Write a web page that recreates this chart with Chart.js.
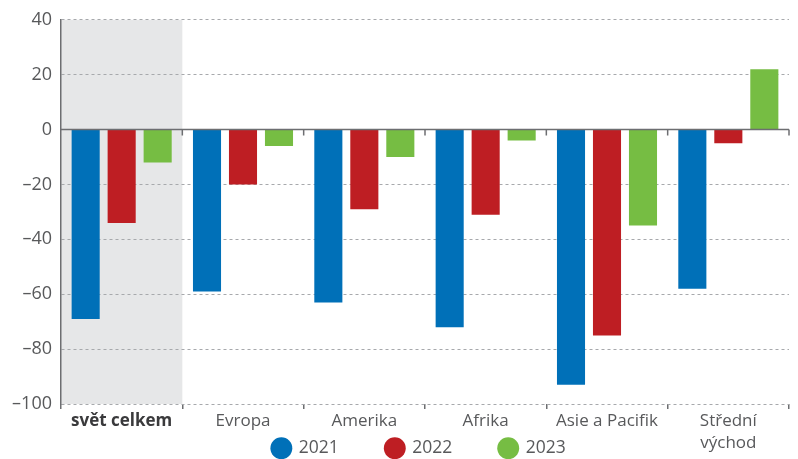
<!DOCTYPE html>
<html lang="cs">
<head>
  <meta charset="UTF-8" />
  <title>Změna podle regionů 2021–2023</title>
  <script src="https://cdn.jsdelivr.net/npm/chart.js"></script>
  <style>
    html, body {
      margin: 0;
      padding: 0;
      background: #fff;
    }
  </style>
</head>
<body>
  <canvas id="regionChart" width="798" height="459"></canvas>

  <script>
    const categories = ['svět celkem', 'Evropa', 'Amerika', 'Afrika', 'Asie a Pacifik', ['Střední', 'východ']];
    const years = ['2021', '2022', '2023'];
    const values2021 = [-69, -59, -63, -72, -93, -58];
    const values2022 = [-34, -20, -29, -31, -75, -5];
    const values2023 = [-12, -6, -10, -4, -35, 22];
    const yTicks = [40, 20, 0, -20, -40, -60, -80, -100];

    const FONT = "'Open Sans', sans-serif";
    const TEXT = '#58595b';
    const AXIS = '#6d6e71';

    // grey panel behind "svět celkem" + zero line with category ticks on top of bars
    const decorPlugin = {
      id: 'decor',
      beforeDraw(chart) {
        const { ctx, chartArea, scales: { x } } = chart;
        const right = x.getPixelForValue(0.5);
        ctx.save();
        ctx.fillStyle = '#e6e7e8';
        ctx.fillRect(chartArea.left, chartArea.top, right - chartArea.left, chartArea.bottom - chartArea.top);
        ctx.restore();
      },
      afterDatasetsDraw(chart) {
        const { ctx, chartArea, scales: { x, y } } = chart;
        const y0 = y.getPixelForValue(0);
        ctx.save();
        ctx.strokeStyle = AXIS;
        ctx.lineWidth = 1.5;
        ctx.beginPath();
        ctx.moveTo(chartArea.left, y0);
        ctx.lineTo(chartArea.right, y0);
        for (let i = 0; i < categories.length; i++) {
          const bx = x.getPixelForValue(i + 0.5);
          ctx.moveTo(bx, y0);
          ctx.lineTo(bx, y0 + 6);
        }
        ctx.stroke();
        ctx.restore();
      }
    };

    const colors = ['#0070b8', '#be1e23', '#76bd43'];
    const series = [values2021, values2022, values2023];

    new Chart(document.getElementById('regionChart'), {
      type: 'bar',
      data: {
        labels: categories,
        datasets: years.map((yr, i) => ({
          label: yr,
          data: series[i],
          backgroundColor: colors[i],
          borderWidth: 0,
          barPercentage: 0.78,
          categoryPercentage: 0.89
        }))
      },
      options: {
        responsive: false,
        animation: false,
        layout: { padding: { top: 19, right: 9, bottom: -8, left: 0 } },
        scales: {
          x: {
            // axis box kept at zero height so the legend sits beside the two-line label;
            // mirror stops the labels being clipped to that box (padding then works upwards)
            afterFit: s => { s.height = 0; },
            grid: {
              drawOnChartArea: false,
              drawTicks: true,
              tickLength: 5,
              color: AXIS,
              lineWidth: 1.5
            },
            border: { display: false },
            ticks: {
              autoSkip: false,
              maxRotation: 0,
              mirror: true,
              padding: -28,
              color: c => c.index === 0 ? '#3a3a3c' : TEXT,
              font: c => c.index === 0
                ? { family: FONT, size: 17, weight: 'bold', lineHeight: 1.3 }
                : { family: FONT, size: 17, lineHeight: 1.3 }
            }
          },
          y: {
            min: -100,
            max: 40,
            afterFit: s => { s.width = 61; },
            afterBuildTicks: s => { s.ticks = yTicks.map(v => ({ value: v })); },
            grid: {
              drawTicks: false,
              color: c => (c.tick && c.tick.value === 0) ? 'rgba(0,0,0,0)' : '#a7a9ac',
              lineWidth: 1
            },
            border: { display: true, color: AXIS, width: 1.5, dash: [3, 3] },
            ticks: {
              padding: 9,
              color: TEXT,
              font: { family: FONT, size: 18 },
              callback: v => v < 0 ? '\u2013' + Math.abs(v) : String(v)
            }
          }
        },
        plugins: {
          tooltip: { enabled: false },
          legend: {
            position: 'bottom',
            fullSize: false,
            labels: {
              usePointStyle: true,
              pointStyle: 'circle',
              boxHeight: 15.5,
              padding: 35.5,
              color: TEXT,
              font: { family: FONT, size: 17.5 },
              generateLabels: chart => chart.data.datasets.map((ds, i) => ({
                text: ds.label + '\u2002\u2009',
                fillStyle: ds.backgroundColor,
                strokeStyle: ds.backgroundColor,
                lineWidth: 0,
                pointStyle: 'circle',
                fontColor: TEXT,
                hidden: false,
                datasetIndex: i
              }))
            }
          }
        }
      },
      plugins: [decorPlugin]
    });
  </script>
</body>
</html>
